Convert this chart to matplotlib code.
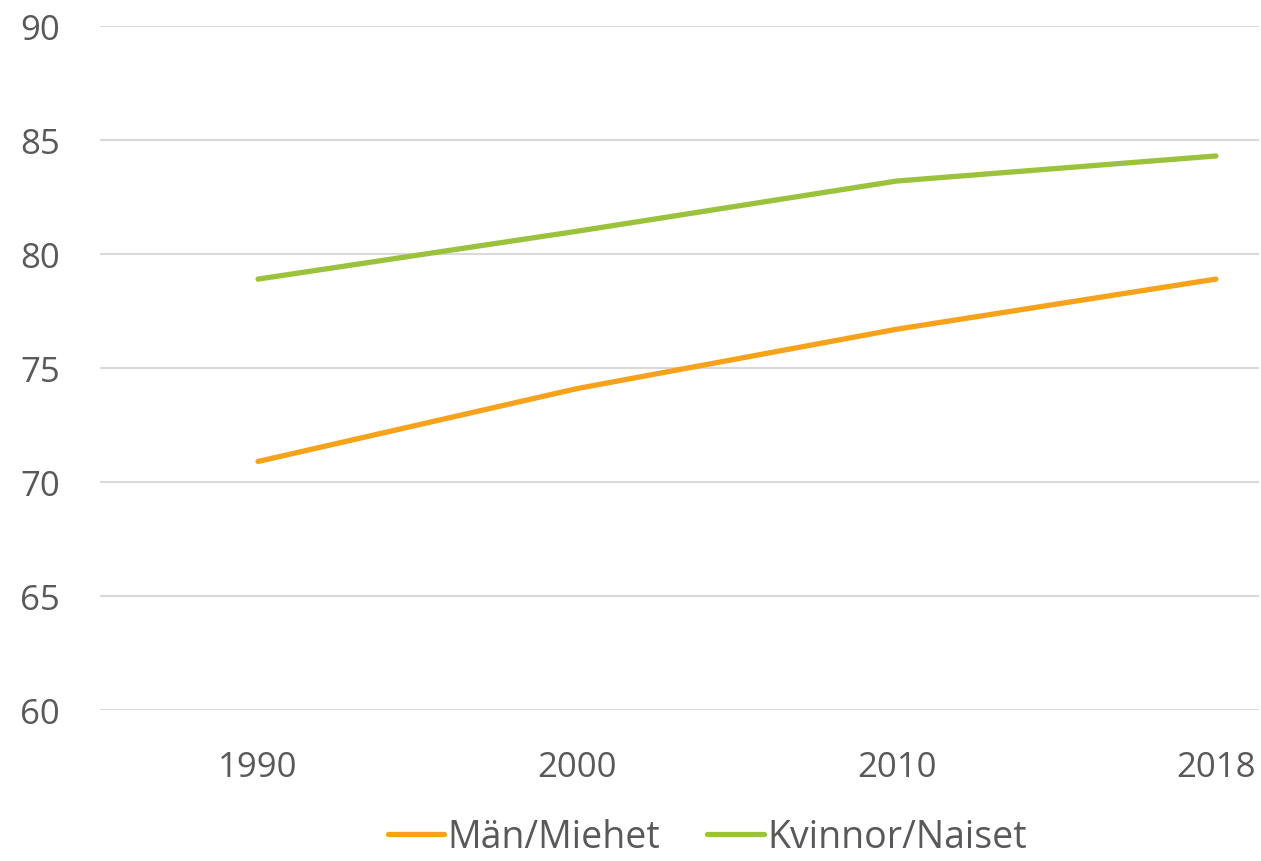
import matplotlib.pyplot as plt

years = ["1990", "2000", "2010", "2018"]
men = [70.9, 74.1, 76.7, 78.9]
women = [78.9, 81.0, 83.2, 84.3]
yticks = [60, 65, 70, 75, 80, 85, 90]

plt.rcParams['font.family'] = ['Open Sans', 'DejaVu Sans']

fig = plt.figure(figsize=(12.61, 8.62), dpi=100)
ax = fig.add_axes([100 / 1261, 1 - 711 / 862, 1159 / 1261, 684 / 862])

x = range(len(years))
ax.plot(x, men, color='#F7A21B', lw=3.8, solid_capstyle='round', label='Män/Miehet')
ax.plot(x, women, color='#9BC23C', lw=3.8, solid_capstyle='round', label='Kvinnor/Naiset')

ax.set_ylim(60, 90)
ax.set_yticks(yticks)
ax.set_xlim(-0.495, 3.135)
ax.set_xticks(list(x))
ax.set_xticklabels(years)
ax.grid(axis='y', color='#D9D9D9', lw=1.5)
ax.set_axisbelow(True)
for side in ['top', 'right', 'left', 'bottom']:
    ax.spines[side].set_visible(False)
ax.tick_params(length=0, labelsize=25, colors='#595959')
ax.tick_params(axis='y', pad=29)
ax.tick_params(axis='x', pad=29)

leg = fig.legend(loc='center', bbox_to_anchor=(0.561, 1 - 838 / 862), ncol=2, frameon=False,
                 fontsize=27, handlelength=1.5, handletextpad=0.1, columnspacing=1.25)
for t in leg.get_texts():
    t.set_color('#595959')

fig.savefig('out.png', dpi=100)
